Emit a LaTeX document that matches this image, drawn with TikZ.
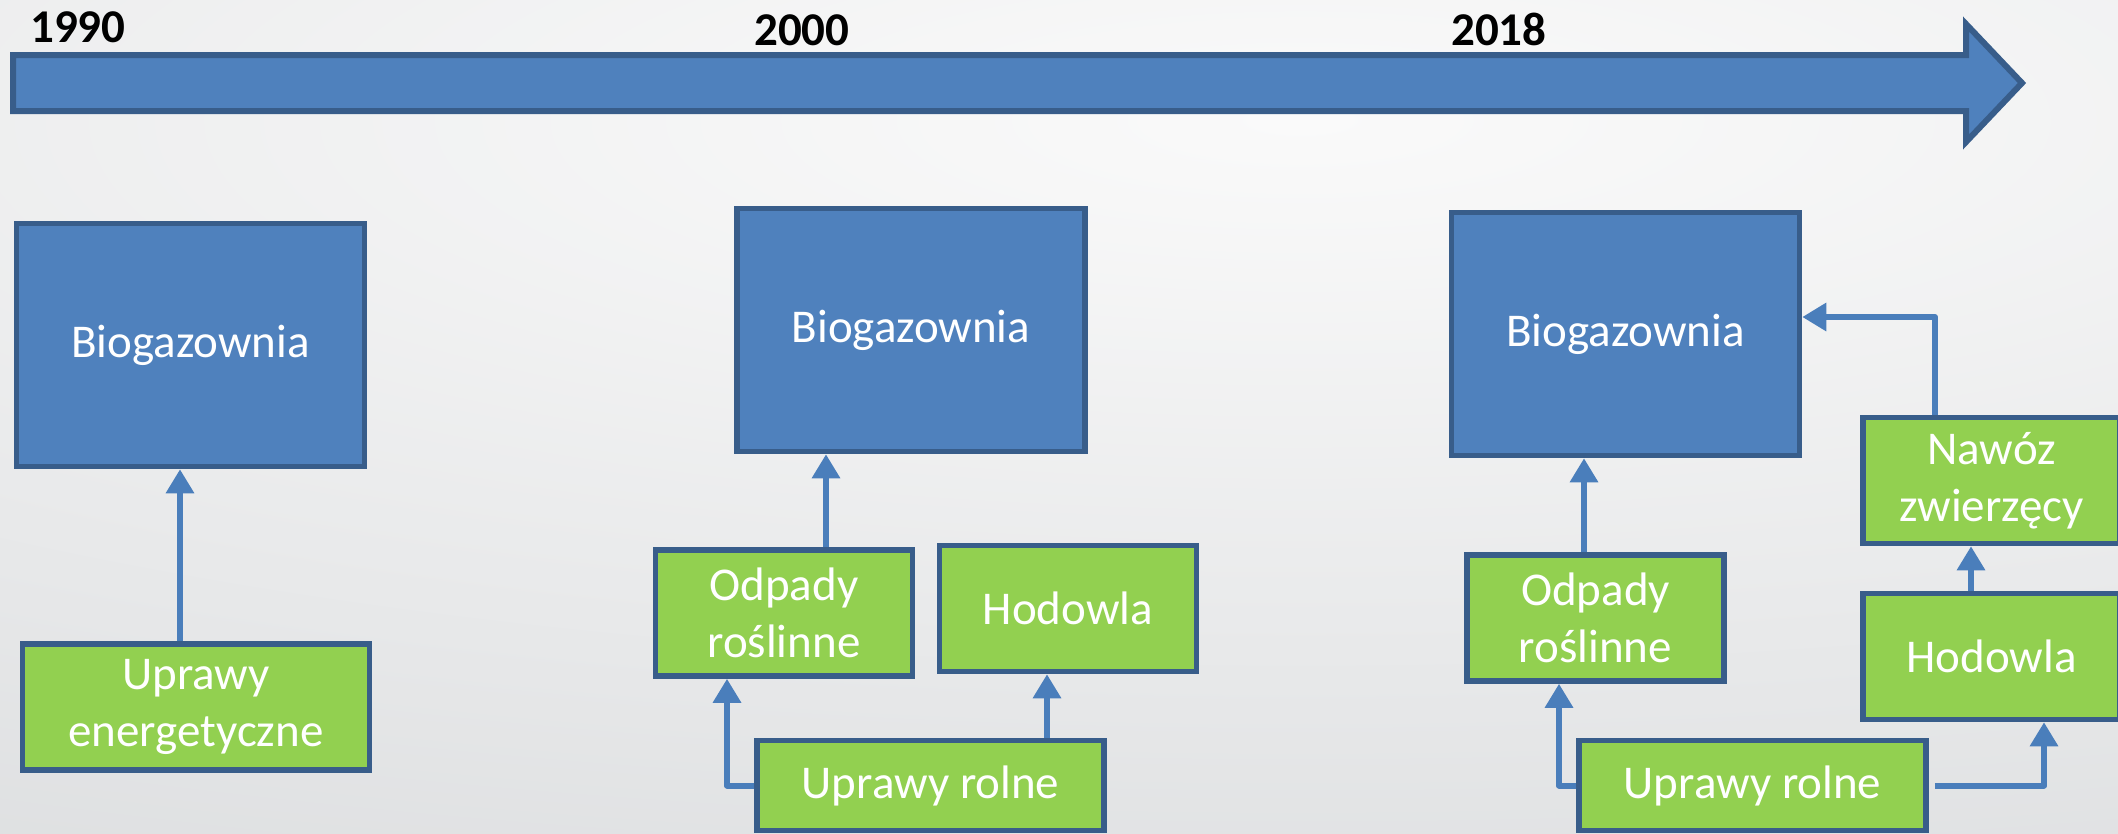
\documentclass[tikz,border=0pt]{standalone}
\usepackage{fontspec}
\setmainfont{Carlito}
\usepackage{tikz}
\usetikzlibrary{arrows.meta,positioning}
\definecolor{bioblue}{HTML}{4F81BD}
\definecolor{boxedge}{HTML}{385D8A}
\definecolor{cropgreen}{HTML}{92D050}
\definecolor{flowblue}{HTML}{4A7EBB}
\definecolor{bglight}{HTML}{FAFAFA}
\definecolor{bgdark}{HTML}{C3C6C9}
\newcommand{\boxfont}{\fontsize{47}{57}\selectfont}
\newcommand{\yearfont}{\fontsize{47}{57}\selectfont\bfseries}
\tikzset{
  biobox/.style={draw=boxedge, fill=bioblue, line width=5.5pt, text=white, font=\boxfont, inner sep=0pt, minimum width=348pt, minimum height=243pt},
  cropbox/.style={draw=boxedge, fill=cropgreen, line width=5.5pt, text=white, font=\boxfont, align=center, inner sep=0pt, minimum width=257pt, minimum height=126pt},
  widebox/.style={cropbox, minimum width=347pt},
  basebox/.style={widebox, minimum height=90pt},
  yearlabel/.style={font=\yearfont, anchor=base west, inner sep=0pt},
  timeline/.style={draw=boxedge, fill=bioblue, line width=6pt, line join=miter},
  flow/.style={-{Triangle[length=24pt, width=27pt]}, line width=6pt, line join=round, draw=flowblue}
}
\begin{document}
\begin{tikzpicture}[x=1pt, y=-1pt]
  \useasboundingbox (0,0) rectangle (2118,833);
  \clip (0,0) rectangle (2118,833);
  \shade[inner color=bglight, outer color=bgdark] (1300,120) ellipse (6000 and 1620);
  \draw[timeline] (13,55) -- (1966,55) -- (1966,24) -- (2022,83) -- (1966,142) -- (1966,111) -- (13,111) -- cycle;
  \node[yearlabel] (y1990) at (30,42) {1990};
  \node[yearlabel] (y2000) at (754,45) {2000};
  \node[yearlabel] (y2018) at (1451,45) {2018};
  \node[biobox] (bio1) at (190.5,345) {Biogazownia};
  \node[widebox] (ener) at (196,707) {Uprawy\\energetyczne};
  \node[biobox] (bio2) at (911,330) {Biogazownia};
  \node[cropbox] (odp2) at (784,613) {Odpady\\roślinne};
  \node[cropbox] (hod2) at (1068,608.5) {Hodowla};
  \node[basebox] (upr2) at (930.5,785.5) {Uprawy rolne};
  \node[biobox] (bio3) at (1625.5,334) {Biogazownia};
  \node[cropbox] (odp3) at (1595.5,618) {Odpady\\roślinne};
  \node[cropbox] (naw) at (1991.5,480.5) {Nawóz\\zwierzęcy};
  \node[cropbox] (hod3) at (1991.5,656.5) {Hodowla};
  \node[basebox] (upr3) at (1752.5,785.5) {Uprawy rolne};
  \draw[flow] ([xshift=-16pt]ener.north) -- ([xshift=-16pt]ener.north |- bio1.south);
  \draw[flow] ([xshift=42pt]odp2.north) -- ([xshift=42pt]odp2.north |- bio2.south);
  \draw[flow] (upr2.west) -| ([xshift=-57pt]odp2.south);
  \draw[flow] ([xshift=-21pt]hod2.south |- upr2.north) -- ([xshift=-21pt]hod2.south);
  \draw[flow] ([xshift=-11.5pt]odp3.north) -- ([xshift=-11.5pt]odp3.north |- bio3.south);
  \draw[flow] (upr3.west) -| ([xshift=-36.5pt]odp3.south);
  \draw[flow] ([xshift=6pt]upr3.east) -| ([xshift=52.5pt]hod3.south);
  \draw[flow] ([xshift=-20.5pt]hod3.north) -- ([xshift=-20.5pt]hod3.north |- naw.south);
  \draw[flow] ([xshift=-56.5pt]naw.north) |- ([yshift=17pt]bio3.east);
\end{tikzpicture}
\end{document}
